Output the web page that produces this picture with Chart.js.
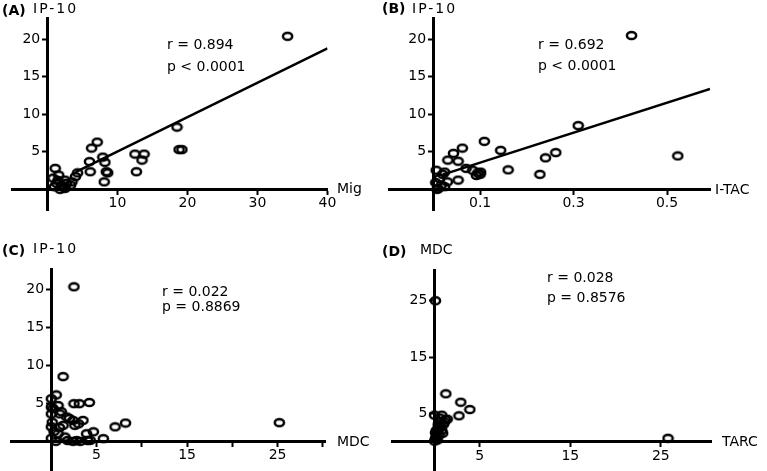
<!DOCTYPE html>
<html><head><meta charset="utf-8">
<script src="https://cdn.jsdelivr.net/npm/chart.js@4"></script>
<style>
html,body{margin:0;padding:0;background:#fff;width:767px;height:471px;overflow:hidden;position:relative;}
canvas{position:absolute;}
.t{position:absolute;font-family:"DejaVu Sans",sans-serif;font-size:14px;color:#000;white-space:nowrap;line-height:14px;height:14px;}
.b{font-weight:bold;}
</style></head><body>
<canvas id="cA" width="383" height="230" style="left:0;top:0"></canvas>
<canvas id="cB" width="384" height="230" style="left:383px;top:0"></canvas>
<canvas id="cC" width="383" height="261" style="left:0;top:230px"></canvas>
<canvas id="cD" width="384" height="261" style="left:383px;top:230px"></canvas>

<div class="t b" style="left:2px;top:3px">(A)</div>
<div class="t" style="left:33px;top:1px;letter-spacing:2px">IP-10</div>
<div class="t" style="left:167px;top:37px">r = 0.894</div>
<div class="t" style="left:167px;top:59px">p &lt; 0.0001</div>
<div class="t" style="left:337px;top:181px">Mig</div>

<div class="t b" style="left:382px;top:1px">(B)</div>
<div class="t" style="left:412px;top:1px;letter-spacing:2px">IP-10</div>
<div class="t" style="left:538px;top:37px">r = 0.692</div>
<div class="t" style="left:538px;top:58px">p &lt; 0.0001</div>
<div class="t" style="left:715px;top:182px">I-TAC</div>

<div class="t b" style="left:2px;top:243px">(C)</div>
<div class="t" style="left:33px;top:241px;letter-spacing:2px">IP-10</div>
<div class="t" style="left:162px;top:284px">r = 0.022</div>
<div class="t" style="left:162px;top:299px">p = 0.8869</div>
<div class="t" style="left:337px;top:434px">MDC</div>

<div class="t b" style="left:382px;top:244px">(D)</div>
<div class="t" style="left:420px;top:242px">MDC</div>
<div class="t" style="left:547px;top:270px">r = 0.028</div>
<div class="t" style="left:547px;top:290px">p = 0.8576</div>
<div class="t" style="left:722px;top:434px">TARC</div>

<script>
// ---- Panel A: Mig vs IP-10 ----
const migA  = [34.3, 18.5, 18.8, 19.2, 12.5, 13.8, 13.5, 12.7, 7.1, 6.3, 7.9, 8.2, 6.0, 6.1, 8.4, 8.6, 8.1, 4.3, 4.0, 3.5, 1.1, 1.6, 2.5, 1.3, 1.0, 2.0, 2.7, 2.5, 1.8, 3.3, 0.8, 1.5, 2.2];
const ip10A = [20.4, 8.3, 5.3, 5.3, 4.7, 4.7, 3.9, 2.35, 6.3, 5.5, 4.3, 3.6, 3.7, 2.35, 2.35, 2.2, 1.0, 2.2, 1.7, 1.0, 2.8, 1.9, 1.24, 0.8, 0.35, 0.57, 0.8, 0.13, 0.0, 0.57, 1.5, 1.2, 0.4];
const trendAx = [4, 40];
const trendAy = [2.29, 18.8];
const xTicksA = [10, 20, 30, 40];
const yTicksA = [5, 10, 15, 20];

// ---- Panel B: I-TAC vs IP-10 ----
const itacB = [0.424, 0.31, 0.523, 0.262, 0.24, 0.228, 0.16, 0.144, 0.109, 0.062, 0.043, 0.031, 0.053, 0.07, 0.084, 0.101, 0.1, 0.095, 0.092, 0.053, 0.006, 0.024, 0.013, 0.017, 0.01, 0.024, 0.005, 0.03, 0.02, 0.008];
const ip10B = [20.5, 8.5, 4.46, 4.9, 4.2, 2.0, 2.6, 5.2, 6.4, 5.5, 4.8, 3.9, 3.75, 2.8, 2.55, 2.3, 2.0, 2.2, 1.85, 1.24, 2.55, 2.3, 1.45, 0.57, 0.1, 0.36, 0.9, 1.0, 2.0, 0.0];
const trendBx = [0.02, 0.592];
const trendBy = [1.96, 13.4];
const xTicksB = [0.1, 0.3, 0.5];
const yTicksB = [5, 10, 15, 20];

// ---- Panel C: MDC vs IP-10 ----
const mdcC  = [2.5, 1.3, 25.2, 4.2, 2.5, 3.1, 0.55, 0.0, 8.2, 7.05, 5.75, 4.65, 4.3, 3.5, 2.6, 2.4, 3.2, 2.4, 1.5, 1.3, 0.95, 0.75, 0.0, 0.0, 0.0, 0.3, 0.0, 0.5, 0.75, 3.9, 2.0, 1.1, 0.2, 1.7, 0.9, 0.1, 3.0, 1.8, 2.8, 4.0];
const ip10C = [20.3, 8.5, 2.45, 5.1, 4.95, 4.95, 6.1, 5.6, 2.4, 1.9, 0.35, 1.25, 0.13, 2.75, 2.1, 2.75, 0.0, 0.0, 0.57, 2.1, 3.6, 4.7, 4.5, 3.6, 1.9, 1.3, 0.4, 0.0, 1.0, 1.0, 3.0, 3.9, 4.3, 3.2, 1.8, 2.5, 2.3, 0.1, 0.1, 0.1];
const xTicksC = [5, 10, 15, 20, 25, 30];
const xLabelsC = [5, 15, 25];
const yTicksC = [5, 10, 15, 20];

// ---- Panel D: TARC vs MDC ----
const tarcD = [0.1, 25.8, 1.25, 2.9, 3.9, 2.7, 0.0, 0.8, 1.2, 1.0, 0.6, 0.1, 0.1, 0.0, 0.4, 0.7, 0.2, 0.3, 0.5, 0.2, 0.8, 0.4, 1.1, 0.6, 1.4, 0.9, 0.3];
const mdcD  = [25, 0.6, 8.5, 7.0, 5.7, 4.6, 4.7, 4.7, 3.9, 3.1, 2.7, 1.6, 0.6, 0.1, 2.2, 3.6, 1.0, 0.3, 1.2, 2.0, 2.0, 3.0, 3.5, 4.2, 4.0, 1.5, 1.8];
const xTicksD = [5, 15, 25];
const yTicksD = [5, 15, 25];

function ring() {
  const c = document.createElement('canvas');
  c.width = 13; c.height = 11;
  const g = c.getContext('2d');
  g.lineWidth = 2.5; g.strokeStyle = '#000';
  g.beginPath(); g.ellipse(6.5, 5.5, 4.6, 3.6, 0, 0, Math.PI * 2); g.stroke();
  return c;
}
const RING = ring();
const FONT = {family: 'DejaVu Sans', size: 14};

function pts(xs, ys) { return xs.map((x, i) => ({x: x, y: ys[i]})); }

function panel(id, p) {
  const datasets = [];
  if (p.trend) {
    datasets.push({data: pts(p.trend[0], p.trend[1]), showLine: true, borderColor: '#000',
      borderWidth: 2.5, pointRadius: 0, fill: false});
  }
  datasets.push({data: pts(p.xs, p.ys), pointStyle: RING, pointRadius: 5, borderColor: '#000',
    backgroundColor: 'rgba(0,0,0,0)'});
  const axisCommon = (ticksArr, labelsArr, fmt) => ({
    type: 'linear',
    grid: {display: true, drawOnChartArea: false, drawTicks: true, tickLength: 4, tickWidth: 2, color: '#000'},
    border: {display: true, color: '#000', width: 3},
    ticks: {color: '#000', font: FONT, padding: 2, autoSkip: false, maxRotation: 0,
      callback: v => (labelsArr.includes(v) ? fmt(v) : '')},
    afterBuildTicks: s => { s.ticks = ticksArr.map(v => ({value: v})); }
  });
  const xs = axisCommon(p.xTicks, p.xLabels || p.xTicks, v => String(v));
  xs.min = p.xr[0]; xs.max = p.xr[1]; xs.position = {y: 0};
  const ys = axisCommon(p.yTicks, p.yLabels || p.yTicks, v => String(v) + ' \u2009');
  ys.min = p.yr[0]; ys.max = p.yr[1]; ys.position = {x: 0};
  new Chart(document.getElementById(id), {
    type: 'scatter',
    data: {datasets: datasets},
    options: {
      responsive: false, animation: false, events: [],
      layout: {padding: p.pad},
      plugins: {legend: {display: false}, tooltip: {enabled: false}},
      scales: {x: xs, y: ys}
    }
  });
}

panel('cA', {xs: migA, ys: ip10A, trend: [trendAx, trendAy], xTicks: xTicksA, yTicks: yTicksA,
  xr: [-5, 40], yr: [-2.75, 22.8], pad: {left: 12.5, right: 55.5, top: 18.3, bottom: 20}});
panel('cB', {xs: itacB, ys: ip10B, trend: [trendBx, trendBy], xTicks: xTicksB, yTicks: yTicksB,
  xr: [-0.095, 0.592], yr: [-2.75, 22.8], pad: {left: 2, right: 57, top: 18.3, bottom: 20}});
panel('cC', {xs: mdcC, ys: ip10C, xTicks: xTicksC, xLabels: xLabelsC, yTicks: yTicksC,
  xr: [-4.4, 30.3], yr: [-3.9, 22.6], pad: {left: 11.5, right: 57.5, top: 39.3, bottom: 20}});
panel('cD', {xs: tarcD, ys: mdcD, xTicks: xTicksD, yTicks: yTicksD,
  xr: [-4.7, 30.6], yr: [-5.2, 30.4], pad: {left: 9, right: 55.5, top: 40.3, bottom: 20}});
</script>
</body></html>
